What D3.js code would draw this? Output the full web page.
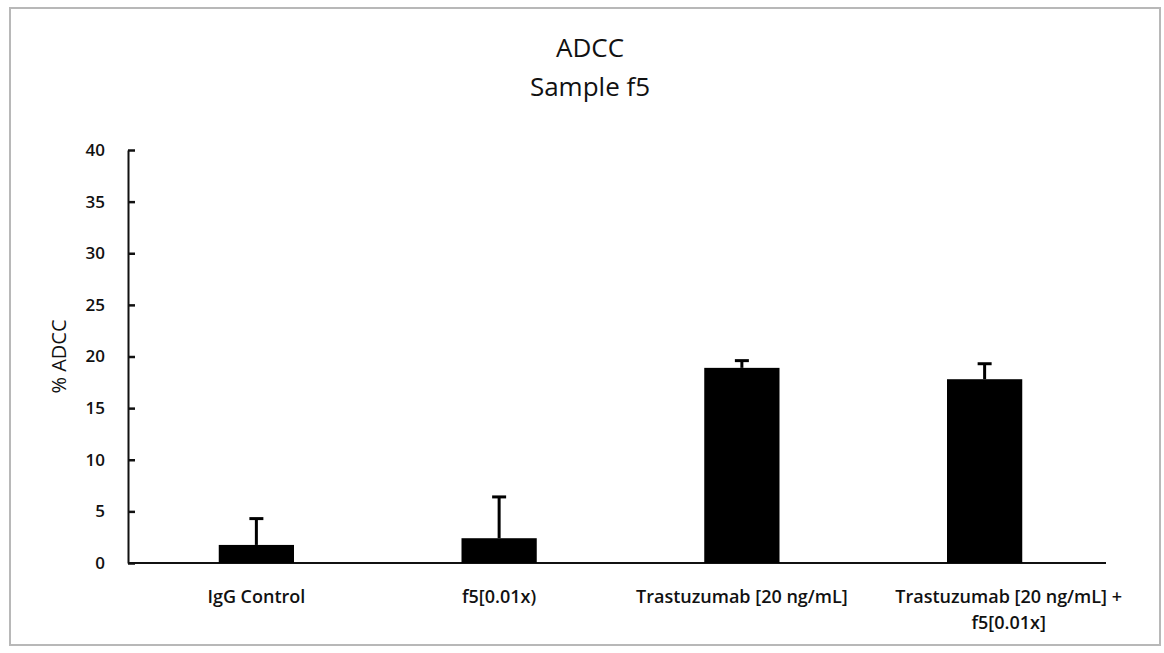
<!DOCTYPE html>
<html>
<head>
<meta charset="utf-8">
<script src="https://cdn.jsdelivr.net/npm/d3@7"></script>
<style>
  body { margin: 0; background: #fff; }
  text { font-family: "Open Sans", sans-serif; fill: #111; }
</style>
</head>
<body>
<script>
// data
var categories = ["IgG Control", "f5[0.01x)", "Trastuzumab [20 ng/mL]", "Trastuzumab [20 ng/mL] +|f5[0.01x]"];
var means = [1.75, 2.4, 18.9, 17.8];
var errors = [2.55, 4.0, 0.7, 1.5];
var yTicks = [0, 5, 10, 15, 20, 25, 30, 35, 40];

var width = 1164,
  height = 653;
var margin = {
  top: 150,
  bottom: 90,
  left: 128,
  right: 58
};

var svg = d3.select('body')
  .append('svg')
  .attr('width', width)
  .attr('height', height);

// frame
svg.append('rect')
  .attr('x', 10).attr('y', 8)
  .attr('width', 1150).attr('height', 637)
  .attr('fill', 'none')
  .attr('stroke', '#b8b8b8')
  .attr('stroke-width', 2);

// Define Scales
var yScale = d3.scaleLinear()
  .domain([0, 40])
  .range([height - margin.bottom, margin.top]);

var xScale = d3.scaleBand()
  .domain(categories)
  .range([135, width - margin.right])
  .paddingInner(0.69)
  .paddingOuter(0.345);

// Title
svg.append('text').attr('x', 590).attr('y', 57).attr('text-anchor', 'middle')
  .style('font-size', '26px').text('ADCC');
svg.append('text').attr('x', 590).attr('y', 96).attr('text-anchor', 'middle')
  .style('font-size', '26px').text('Sample f5');

// Y axis, ticks pointing inward
var yAxis = svg.append('g')
  .attr('transform', `translate(${margin.left},0)`)
  .call(d3.axisRight(yScale).tickValues(yTicks).tickSize(7).tickSizeOuter(0));
yAxis.select('.domain').attr('stroke', '#111').attr('stroke-width', 2);
yAxis.selectAll('.tick line').attr('stroke', '#111').attr('stroke-width', 2.5);
yAxis.selectAll('.tick text')
  .attr('x', -23)
  .attr('text-anchor', 'end')
  .style('font-size', '17px')
  .style('font-weight', '600');

svg.append('text')
  .attr('transform', 'translate(66,' + ((yScale(0) + yScale(40)) / 2) + ') rotate(-90)')
  .attr('text-anchor', 'middle')
  .style('font-size', '20px')
  .text('% ADCC');

// X axis line
svg.append('line')
  .attr('x1', margin.left).attr('x2', 1106)
  .attr('y1', yScale(0)).attr('y2', yScale(0))
  .attr('stroke', '#111').attr('stroke-width', 2);

// Bars
svg.selectAll('.bar')
  .data(categories)
  .enter()
  .append('rect')
  .attr('class', 'bar')
  .attr('x', function(d) { return xScale(d); })
  .attr('y', function(d, i) { return yScale(means[i]); })
  .attr('width', xScale.bandwidth())
  .attr('height', function(d, i) { return yScale(0) - yScale(means[i]); })
  .attr('fill', '#000');

// Error bars (upper only)
var cx = function(d) { return xScale(d) + xScale.bandwidth() / 2; };
svg.selectAll('.err')
  .data(categories)
  .enter()
  .append('line')
  .attr('class', 'err')
  .attr('x1', cx).attr('x2', cx)
  .attr('y1', function(d, i) { return yScale(means[i]); })
  .attr('y2', function(d, i) { return yScale(means[i] + errors[i]); })
  .attr('stroke', '#000').attr('stroke-width', 3);
svg.selectAll('.cap')
  .data(categories)
  .enter()
  .append('line')
  .attr('class', 'cap')
  .attr('x1', function(d) { return cx(d) - 7; })
  .attr('x2', function(d) { return cx(d) + 7; })
  .attr('y1', function(d, i) { return yScale(means[i] + errors[i]); })
  .attr('y2', function(d, i) { return yScale(means[i] + errors[i]); })
  .attr('stroke', '#000').attr('stroke-width', 3);

// Category labels (wrapped label sits a bit to the right, as in Excel)
var lab = svg.selectAll('.lab')
  .data(categories)
  .enter()
  .append('text')
  .attr('class', 'lab')
  .attr('text-anchor', 'middle')
  .attr('y', yScale(0) + 40)
  .style('font-size', '18px')
  .style('font-weight', '600');
lab.each(function(d) {
  var parts = d.split('|');
  var shift = parts.length > 1 ? 24 : 0;
  var t = d3.select(this);
  parts.forEach(function(p, k) {
    t.append('tspan').attr('x', cx(d) + shift).attr('dy', k === 0 ? 0 : 26).text(p);
  });
});
</script>
</body>
</html>
